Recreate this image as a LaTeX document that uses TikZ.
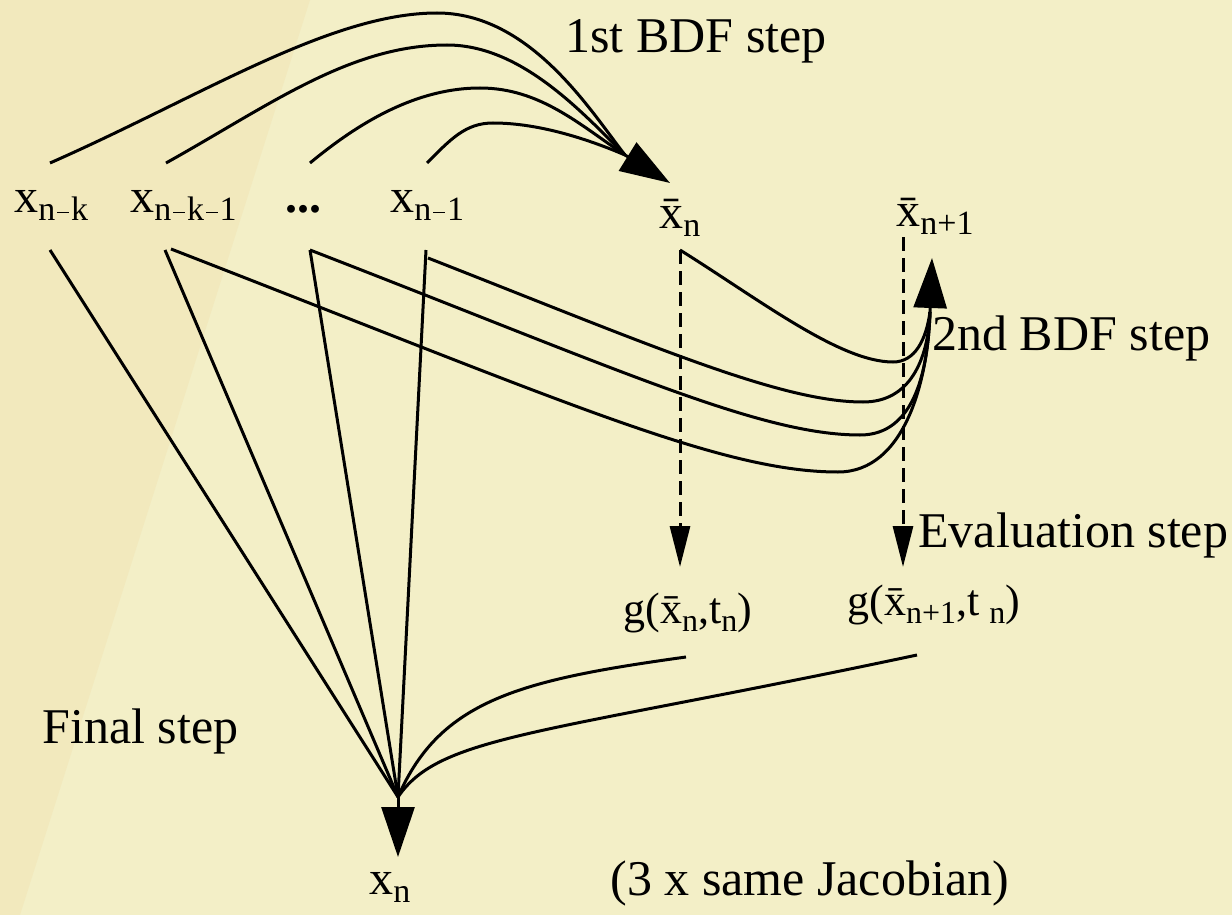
\documentclass[tikz,border=0pt]{standalone}
\usepackage{fontspec}
\setmainfont{LiberationSerif}[Extension=.ttf, UprightFont=*-Regular, BoldFont=*-Bold]
\usetikzlibrary{arrows.meta,positioning}

\definecolor{bglight}{RGB}{243,239,199}
\definecolor{bgdark}{RGB}{242,233,189}

\tikzstyle{flow}=[black, line width=1.5pt]
\tikzstyle{bigarrow}=[flow, -{Triangle[length=25pt,width=16.5pt]}]
\tikzstyle{evalarrow}=[flow, dash pattern=on 7pt off 3.5pt, -{Triangle[length=20.5pt,width=10pt]}]
\tikzstyle{lbl}=[anchor=base west, inner sep=0pt, font=\fontsize{25}{30}\selectfont]
\tikzstyle{var}=[anchor=base west, inner sep=0pt, font=\fontsize{24}{28}\selectfont]
\tikzstyle{fun}=[anchor=base west, inner sep=0pt, font=\fontsize{22}{26}\selectfont]

\newcommand\lowtext[2][17]{\raisebox{-4pt}{\fontsize{#1}{#1}\selectfont #2}}
\newcommand\dsh{\kern0.06em\rule[0.23em]{0.34em}{0.045em}\kern0.06em}
\newcommand\barx{\={x}}

\begin{document}
\begin{tikzpicture}[x=0.5pt,y=-0.5pt]
    % BACKGROUND
    \fill[bglight] (0,0) rectangle (1232,915);
    \fill[bgdark] (0,0) -- (310,0) -- (20,915) -- (0,915) -- cycle;
    \useasboundingbox (0,0) rectangle (1232,915);

    % VALUES
    \node[var] (xnk)  at (14,213)  {x\lowtext{n\dsh k}};
    \node[var] (xnk1) at (130,213) {x\lowtext{n\dsh k\dsh 1}};
    \node[var] (dots) at (285,213) {\textbf{...}};
    \node[var] (xn1)  at (390,213) {x\lowtext{n\dsh 1}};
    \node[var] (xbn)  at (659,228) {\barx\lowtext{n}};
    \node[var] (xbn1) at (896,227) {\barx\lowtext{n+1}};
    \node[fun] (gn)   at (623,623) {g(\barx\lowtext[16]{n},t\lowtext[16]{n})};
    \node[fun] (gn1)  at (847,615) {g(\barx\lowtext[16]{n+1},t\hspace{5pt}\lowtext[16]{n})};
    \node[var] (xn)   at (369,894) {x\lowtext{n}};

    % STEPS
    \node[lbl] (bdf1)  at (565,53)  {1st BDF step};
    \node[lbl] (bdf2)  at (932,350) {2nd BDF step};
    \node[lbl] (evalu) at (918,547) {Evaluation step};
    \node[lbl] (final) at (42,743)  {Final step};
    \node[lbl] (jac)   at (610,895) {(3 x same Jacobian)};

    % ends of the connectors
    \coordinate (xnk-up)  at (50,163);
    \coordinate (xnk-dn)  at (50,250);
    \coordinate (xnk1-up) at (166,163);
    \coordinate (xnk1-dn) at (165,250);
    \coordinate (xnk1-rt) at (171,249);
    \coordinate (dots-up) at (310,163);
    \coordinate (dots-dn) at (310,250);
    \coordinate (xn1-up)  at (427,163);
    \coordinate (xn1-dn)  at (426,250);
    \coordinate (xn1-rt)  at (428,258);
    \coordinate (xbn-up)  at (670,183);
    \coordinate (xbn-dn)  at (680,250);
    \coordinate (xbn1-up) at (932,258);
    \coordinate (xbn1-dn) at (903,237);
    \coordinate (gn-up)   at (680,567);
    \coordinate (gn-dn)   at (686,657);
    \coordinate (gn1-up)  at (903,567);
    \coordinate (gn1-dn)  at (917,655);
    \coordinate (xn-up)   at (398,857);
    \coordinate (join1)   at (625,155);
    \coordinate (join2)   at (930,312);
    \coordinate (join3)   at (398,797);

    % 1ST BDF STEP
    \draw[flow] (xnk-up) .. controls (200,97) and (330,13) .. (437,13)
                .. controls (530,13) and (590,110) .. (join1);
    \draw[flow] (xnk1-up) .. controls (270,105) and (350,45) .. (447,45)
                .. controls (520,45) and (580,110) .. (join1);
    \draw[flow] (dots-up) .. controls (350,130) and (410,88) .. (480,88)
                .. controls (540,88) and (580,125) .. (join1);
    \draw[flow] (xn1-up) .. controls (450,140) and (465,123) .. (493,123)
                .. controls (540,123) and (590,140) .. (join1);
    \draw[bigarrow] (join1) -- (xbn-up);

    % 2ND BDF STEP
    \draw[flow] (xbn-dn) .. controls (760,300) and (840,362) .. (893,362)
                .. controls (915,362) and (926,340) .. (join2);
    \draw[flow] (xn1-rt) .. controls (650,345) and (780,402) .. (863,402)
                .. controls (910,402) and (928,360) .. (join2);
    \draw[flow] (dots-dn) .. controls (620,370) and (760,435) .. (860,435)
                .. controls (915,435) and (928,370) .. (join2);
    \draw[flow] (xnk1-rt) .. controls (560,400) and (720,472) .. (838,472)
                .. controls (905,472) and (928,380) .. (join2);
    \draw[bigarrow] (join2) -- (xbn1-up);

    % EVALUATION STEP
    \draw[evalarrow] (xbn-dn) -- (gn-up);
    \draw[evalarrow] (xbn1-dn) -- (gn1-up);

    % FINAL STEP
    \foreach \s in {xnk-dn,xnk1-dn,dots-dn,xn1-dn}
      \draw[flow] (\s) -- (join3);
    \draw[flow] (gn-dn) .. controls (520,680) and (440,700) .. (join3);
    \draw[flow] (gn1-dn) .. controls (540,735) and (440,735) .. (join3);
    \draw[bigarrow] (join3) -- (xn-up);
\end{tikzpicture}
\end{document}
